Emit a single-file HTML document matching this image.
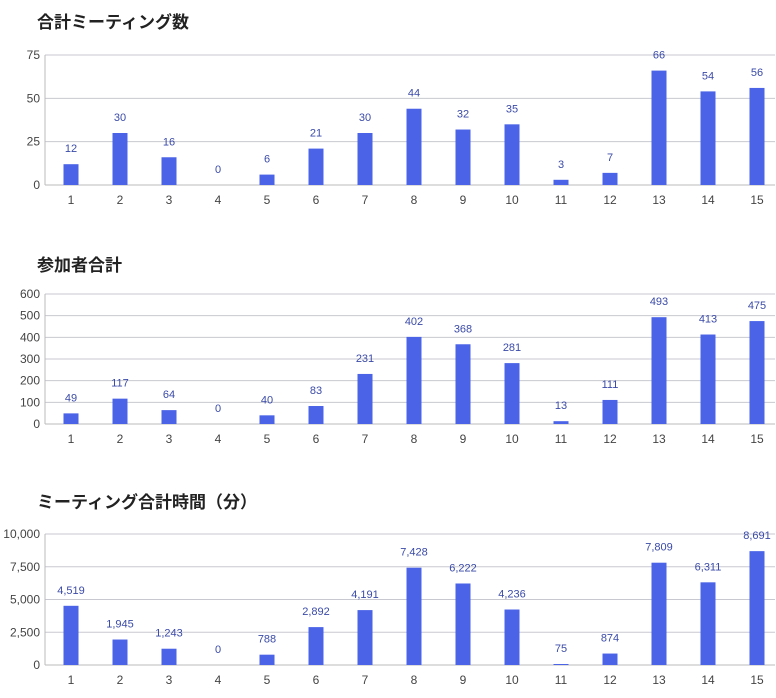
<!DOCTYPE html>
<html><head><meta charset="utf-8">
<style>
body{margin:0;background:#fff;width:776px;height:698px;overflow:hidden;font-family:"Liberation Sans","Noto Sans CJK JP",sans-serif}
svg{display:block}
.title{font-size:17px;font-weight:bold;fill:#222;font-family:"Liberation Sans","Noto Sans CJK JP",sans-serif}
.tick{font-size:12px;fill:#444}
.val{font-size:11px;fill:#3a4aa8}
</style></head><body>
<svg id="chart" width="776" height="698" viewBox="0 0 776 698"></svg>
<script>
const categories=["1","2","3","4","5","6","7","8","9","10","11","12","13","14","15"];
const meetingCounts=[12,30,16,0,6,21,30,44,32,35,3,7,66,54,56];
const participantTotals=[49,117,64,0,40,83,231,402,368,281,13,111,493,413,475];
const meetingMinutes=[4519,1945,1243,0,788,2892,4191,7428,6222,4236,75,874,7809,6311,8691];
const ticks1=[0,25,50,75];
const ticks2=[0,100,200,300,400,500,600];
const ticks3=[0,2500,5000,7500,10000];
const titles=["合計ミーティング数","参加者合計","ミーティング合計時間（分）"];

const NS="http://www.w3.org/2000/svg";
const svg=document.getElementById("chart");
function mk(tag,attrs,parent){const e=document.createElementNS(NS,tag);for(const k in attrs)e.setAttribute(k,attrs[k]);(parent||svg).appendChild(e);return e;}
const fmt=v=>v.toLocaleString("en-US");

function drawChart(idx,values,ticks,top,bottom,titleY,slug){
  const g=mk("g",{});
  
  
  const left=45,right=775,x0=71,step=49;
  const maxV=ticks[ticks.length-1];
  const y=v=>bottom-(v/maxV)*(bottom-top);
  const xs=i=>x0+i*step;
  const t=mk("text",{x:37,y:titleY,class:"title"},g);t.textContent=titles[idx];
  
  
  ticks.forEach(tv=>{
    if(tv>0){const l=mk("line",{x1:left,x2:right,y1:y(tv),y2:y(tv),stroke:"#c8c8d0","stroke-width":1},g);
      
      }
    const tt=mk("text",{x:40,y:y(tv)+4,class:"tick","text-anchor":"end"},g);tt.textContent=fmt(tv);
    
    
  });
  const ax=mk("line",{x1:left,x2:left,y1:top,y2:bottom,stroke:"#bbb","stroke-width":1},g);
  
  
  const bx=mk("line",{x1:left,x2:right,y1:bottom,y2:bottom,stroke:"#bbb","stroke-width":1},g);
  
  
  values.forEach((v,i)=>{
    const b=mk("rect",{x:xs(i)-7.5,y:y(v),width:15,height:bottom-y(v),fill:"#4a63e7"},g);
    
    
    const vl=mk("text",{x:xs(i),y:y(v)-12,class:"val","text-anchor":"middle"},g);vl.textContent=fmt(v);
    
    
    const cl=mk("text",{x:xs(i),y:bottom+19,class:"tick","text-anchor":"middle"},g);cl.textContent=categories[i];
    
    
  });
}
drawChart(0,meetingCounts,ticks1,55,185,28,"meeting-count");
drawChart(1,participantTotals,ticks2,294,424,271,"participant-total");
drawChart(2,meetingMinutes,ticks3,534,665,508,"meeting-minutes");
</script>
</body></html>
